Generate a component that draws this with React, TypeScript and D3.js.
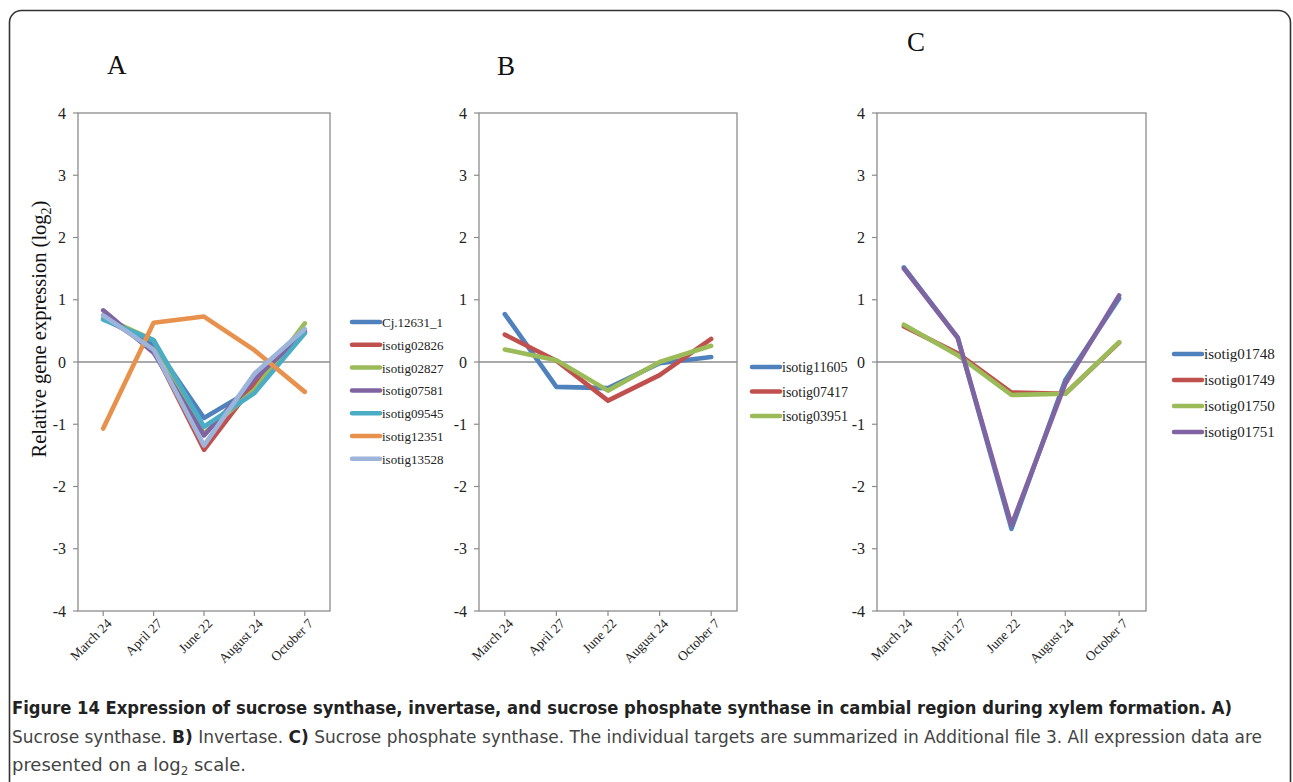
import React from "react";
import * as d3 from "d3";

// Sampling dates (x categories)
const dates = ["March 24", "April 27", "June 22", "August 24", "October 7"];
const yTicks = [4, 3, 2, 1, 0, -1, -2, -3, -4];

// A) Sucrose synthase
const seriesA = ["Cj.12631_1", "isotig02826", "isotig02827", "isotig07581", "isotig09545", "isotig12351", "isotig13528"];
const cj12631 = [0.7, 0.28, -0.9, -0.42, 0.47];
const iso02826 = [0.75, 0.2, -1.41, -0.35, 0.5];
const iso02827 = [0.72, 0.35, -1.15, -0.45, 0.62];
const iso07581 = [0.83, 0.15, -1.18, -0.28, 0.48];
const iso09545 = [0.68, 0.35, -1.04, -0.5, 0.46];
const iso12351 = [-1.07, 0.63, 0.73, 0.19, -0.48];
const iso13528 = [0.75, 0.2, -1.34, -0.19, 0.53];

// B) Invertase
const seriesB = ["isotig11605", "isotig07417", "isotig03951"];
const iso11605 = [0.77, -0.4, -0.42, -0.02, 0.08];
const iso07417 = [0.44, 0.02, -0.62, -0.21, 0.37];
const iso03951 = [0.2, 0.03, -0.46, 0.0, 0.26];

// C) Sucrose phosphate synthase
const seriesC = ["isotig01748", "isotig01749", "isotig01750", "isotig01751"];
const iso01748 = [1.52, 0.39, -2.68, -0.29, 1.02];
const iso01749 = [0.57, 0.14, -0.49, -0.51, 0.31];
const iso01750 = [0.6, 0.11, -0.53, -0.51, 0.32];
const iso01751 = [1.5, 0.39, -2.62, -0.35, 1.07];

const palette = ["#4F81BD", "#C0504D", "#9BBB59", "#8064A2", "#4BACC6", "#E8914C", "#9DB5DA"];

type Panel = {
  letter: string;
  letterX: number;
  letterY: number;
  left: number;
  right: number;
  names: string[];
  values: number[][];
  colors: string[];
  legendX: number;
  legendY: number;
  legendStep: number;
  legendFont: number;
};

const panels: Panel[] = [
  {
    letter: "A", letterX: 107, letterY: 74, left: 78, right: 330,
    names: seriesA,
    values: [cj12631, iso02826, iso02827, iso07581, iso09545, iso12351, iso13528],
    colors: palette,
    legendX: 352, legendY: 322, legendStep: 22.8, legendFont: 13,
  },
  {
    letter: "B", letterX: 497, letterY: 75, left: 479, right: 737,
    names: seriesB,
    values: [iso11605, iso07417, iso03951],
    colors: [palette[0], palette[1], palette[2]],
    legendX: 752, legendY: 367, legendStep: 24.5, legendFont: 14,
  },
  {
    letter: "C", letterX: 907, letterY: 51, left: 877, right: 1146,
    names: seriesC,
    values: [iso01748, iso01749, iso01750, iso01751],
    colors: [palette[0], palette[1], palette[2], palette[3]],
    legendX: 1174, legendY: 354, legendStep: 26, legendFont: 15,
  },
];

const TOP = 113;
const BOTTOM = 611;
const serif = "'Liberation Serif', 'Times New Roman', serif";
const axisGray = "#8c8c8c";

function ChartPanel({ p }: { p: Panel }) {
  const x = d3.scalePoint<string>().domain(dates).range([p.left, p.right]).padding(0.5);
  const y = d3.scaleLinear().domain([-4, 4]).range([BOTTOM, TOP]);
  const line = d3
    .line<number>()
    .x((_, i) => x(dates[i]) as number)
    .y((v) => y(v));

  return (
    <g>
      <text x={p.letterX} y={p.letterY} fontFamily={serif} fontSize={27} fill="#111">
        {p.letter}
      </text>
      {/* plot frame */}
      <rect x={p.left} y={TOP} width={p.right - p.left} height={BOTTOM - TOP} fill="none" stroke={axisGray} strokeWidth={1.3} />
      {/* zero line */}
      <line x1={p.left} x2={p.right} y1={y(0)} y2={y(0)} stroke={axisGray} strokeWidth={1.5} />
      {/* y ticks */}
      {yTicks.map((t) => (
        <g key={t}>
          <line x1={p.left - 5} x2={p.left} y1={y(t)} y2={y(t)} stroke={axisGray} strokeWidth={1.2} />
          <text x={p.left - 12} y={y(t)} dy="0.35em" textAnchor="end" fontFamily={serif} fontSize={16} fill="#222">
            {t}
          </text>
        </g>
      ))}
      {/* x ticks and rotated labels */}
      {dates.map((d) => {
        const cx = x(d) as number;
        return (
          <g key={d}>
            <line x1={cx} x2={cx} y1={BOTTOM} y2={BOTTOM + 5} stroke={axisGray} strokeWidth={1.2} />
            <text
              transform={`translate(${cx + 6},${BOTTOM + 10}) rotate(-45)`}
              textAnchor="end"
              dy="0.35em"
              fontFamily={serif}
              fontSize={13.5}
              fill="#222"
            >
              {d}
            </text>
          </g>
        );
      })}
      {/* series lines */}
      {p.values.map((vals, i) => (
        <path
          key={p.names[i]}
          d={line(vals) || ""}
          fill="none"
          stroke={p.colors[i]}
          strokeWidth={4.6}
          strokeLinejoin="round"
          strokeLinecap="round"
        />
      ))}
      {/* legend */}
      {p.names.map((n, i) => {
        const ly = p.legendY + i * p.legendStep;
        return (
          <g key={n}>
            <line x1={p.legendX} x2={p.legendX + 28} y1={ly} y2={ly} stroke={p.colors[i]} strokeWidth={4.5} strokeLinecap="round" />
            <text x={p.legendX + 30} y={ly + 5} fontFamily={serif} fontSize={p.legendFont} fill="#222">
              {n}
            </text>
          </g>
        );
      })}
    </g>
  );
}

export default function App() {
  const capFont = "'Liberation Sans Narrow', 'DejaVu Sans Condensed', 'Open Sans', sans-serif";
  return (
    <svg
      width={1293}
      height={782}
      style={{ position: "absolute", left: 0, top: 0, background: "#fff" }}
    >
      <rect x={9.5} y={10.5} width={1281} height={820} rx={12} fill="none" stroke="#333" strokeWidth={1.6} />
      {panels.map((p) => (
        <ChartPanel key={p.letter} p={p} />
      ))}
      <text
        transform="translate(46,329) rotate(-90)"
        textAnchor="middle"
        fontFamily={serif}
        fontSize={20.5}
        fill="#111"
      >
        Relative gene expression (log
        <tspan fontSize={14} dy="5">2</tspan>
        <tspan dy="-5">)</tspan>
      </text>
      <text x={12} y={714} fontFamily={capFont} fontSize={18} fontWeight="bold" fill="#222" textLength={1220} lengthAdjust="spacingAndGlyphs">
        Figure 14 Expression of sucrose synthase, invertase, and sucrose phosphate synthase in cambial region during xylem formation. A)
      </text>
      <text x={12} y={743} fontFamily={capFont} fontSize={18} fill="#444" textLength={1250} lengthAdjust="spacingAndGlyphs">
        Sucrose synthase. <tspan fontWeight="bold" fill="#222">B)</tspan> Invertase. <tspan fontWeight="bold" fill="#222">C)</tspan> Sucrose phosphate synthase. The individual targets are summarized in Additional file 3. All expression data are
      </text>
      <text x={12} y={771} fontFamily={capFont} fontSize={18} fill="#444" textLength={234} lengthAdjust="spacingAndGlyphs">
        presented on a log<tspan fontSize={12} dy="4">2</tspan><tspan dy="-4"> scale.</tspan>
      </text>
    </svg>
  );
}
